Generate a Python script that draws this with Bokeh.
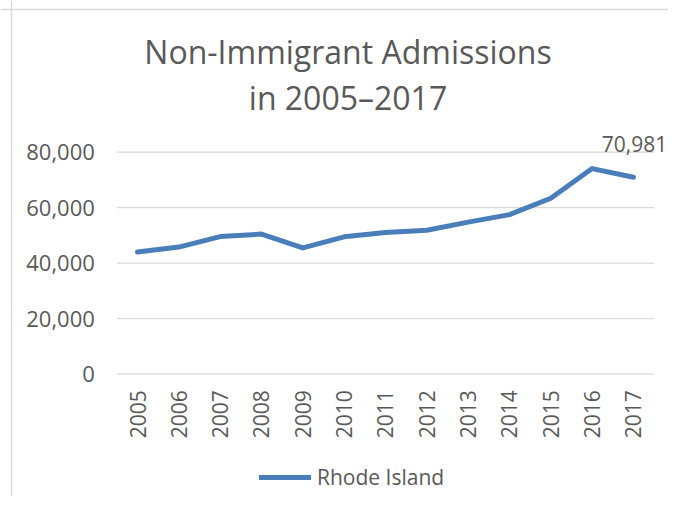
import math
from bokeh.plotting import figure
from bokeh.models import Range1d, Legend, Label, Span, ColumnDataSource
from bokeh.core.properties import value
from bokeh.embed import file_html
from bokeh.resources import INLINE

years = ["2005", "2006", "2007", "2008", "2009", "2010", "2011",
         "2012", "2013", "2014", "2015", "2016", "2017"]
rhode_island = [44000, 45800, 49600, 50500, 45500, 49500, 51100,
                51900, 54800, 57500, 63400, 74100, 70981]
y_ticks = [0, 20000, 40000, 60000, 80000]
series_name = "Rhode Island"
title_lines = ["Non-Immigrant Admissions", "in 2005\u20132017"]
last_label = "70,981"

FONT = "Open Sans"
TXT = "#595959"
GRID = "#D9D9D9"
BLUE = "#4A7EBB"

# ---- layout (pixels on the canvas) ----
W, H = 668, 496
X_FIRST_PX, STEP_PX = 137.0, 41.33      # centre of first category, category pitch
Y0_PX, YTOP_PX = 373.7, 151.7           # pixel rows of 0 and of the top tick

xs = [int(y) for y in years]
ppx = STEP_PX                                  # pixels per year
ppy = (Y0_PX - YTOP_PX) / (y_ticks[-1] - y_ticks[0])
x_lo = xs[0] - X_FIRST_PX / ppx
x_hi = xs[0] + (W - X_FIRST_PX) / ppx
y_hi = y_ticks[0] + Y0_PX / ppy
y_lo = y_ticks[0] - (H - Y0_PX) / ppy

p = figure(x_range=Range1d(x_lo, x_hi), y_range=Range1d(y_lo, y_hi),
           width=W, height=H, output_backend="svg", toolbar_location=None,
           x_axis_location=None, y_axis_location=None,
           min_border_left=0, min_border_right=0, min_border_top=0,
           min_border_bottom=0)
p.outline_line_color = None
p.background_fill_color = "white"
p.border_fill_color = "white"
p.xgrid.visible = False
p.ygrid.visible = False

# chart border (left and top edges visible in the window)
p.add_layout(Span(location=11, dimension="height", location_units="canvas",
                  line_color=GRID, line_width=1.5))
p.add_layout(Span(location=9, dimension="width", location_units="canvas",
                  line_color=GRID, line_width=1.5))

# gridlines across the category band
x_left = xs[0] - 0.5
x_right = xs[-1] + 0.5
grid_src = ColumnDataSource(dict(
    x0=[x_left] * len(y_ticks), x1=[x_right] * len(y_ticks), y=y_ticks,
    lab=[f"{t:,}" for t in y_ticks]))
p.segment("x0", "y", "x1", "y", source=grid_src, line_color=GRID, line_width=1.2)
p.text("x0", "y", text="lab", source=grid_src, x_offset=-22,
       text_align="right", text_baseline="middle",
       text_font=value(FONT), text_font_size="22px", text_color=TXT)

src = ColumnDataSource(dict(x=xs, year=years, val=rhode_island,
                            zero=[0] * len(years)))
r = p.line("x", "val", source=src, line_color=BLUE, line_width=5,
           line_cap="round", line_join="round")

# category labels under the zero line, rotated
p.text("x", "zero", text="year", source=src, angle=math.pi / 2,
       text_align="right", text_baseline="middle", y_offset=16,
       text_font=value(FONT), text_font_size="21px", text_color=TXT)

# data label on last point
p.add_layout(Label(x=xs[-1], y=rhode_island[-1], text=last_label,
                   x_units="data", y_units="data", y_offset=33, x_offset=1,
                   text_align="center", text_baseline="middle",
                   text_font=FONT, text_font_size="21px", text_color=TXT))

# title as two centred lines
title_mid = [50.8, 97.0]
for t, ym in zip(title_lines, title_mid):
    p.add_layout(Label(x=347.5, y=H - ym, x_units="screen", y_units="screen",
                       text=t, text_align="center", text_baseline="middle",
                       text_font=FONT, text_font_size="32px", text_color=TXT))

legend = Legend(items=[(series_name, [r])], orientation="horizontal",
                location=(259, 5), border_line_color=None,
                background_fill_alpha=0, glyph_width=52, label_standoff=6,
                label_text_font=FONT, label_text_font_size="21px",
                label_text_color=TXT, margin=0, padding=0)
p.add_layout(legend)

open("out.html", "w").write(file_html(p, INLINE))
